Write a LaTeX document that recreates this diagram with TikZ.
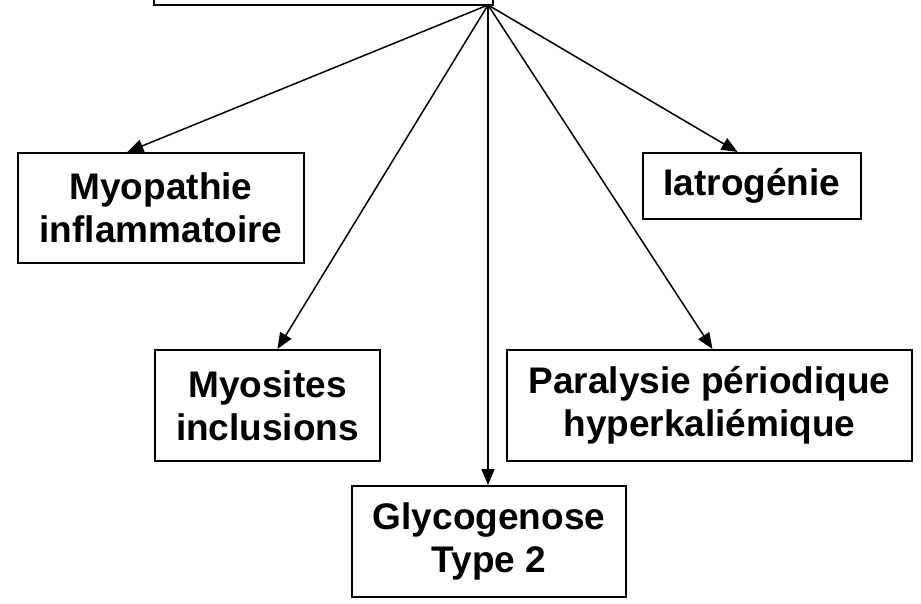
\documentclass[tikz,border=0pt]{standalone}
\usepackage{fontspec}
\setmainfont{Liberation Sans}[Ligatures=NoCommon]
\usetikzlibrary{arrows.meta,positioning}

\begin{document}
\begin{tikzpicture}
  [x=1pt,y=-1pt,
  >={Triangle[length=16pt,width=13pt]},
  cause/.style={rectangle,draw=black,line width=2pt,inner sep=0pt,
    align=center,font=\fontsize{37}{43}\selectfont\bfseries},
  link/.style={->,line width=1.5pt}]

\useasboundingbox (0,0) rectangle (921,604);
\clip (0,0) rectangle (921,604);

% root box (cut off at the top)
\node[cause,minimum width=339pt,minimum height=80pt] (root) at (323.5,-35) {};
\coordinate (src) at (488,5);

% causes
\node[cause,minimum width=286pt,minimum height=110pt] (myopathie) at (161,208) {Myopathie\\inflammatoire};
\node[cause,minimum width=218pt,minimum height=66pt] (iatrogenie) at (752,186) {Iatrogénie};
\node[cause,minimum width=225pt,minimum height=111pt] (myosites) at (267.5,405.5) {Myosites\\inclusions};
\node[cause,minimum width=405pt,minimum height=111pt] (paralysie) at (709.5,405.5) {Paralysie périodique\\hyperkaliémique};
\node[cause,minimum width=274pt,minimum height=111pt] (glycogenose) at (489,541.5) {Glycogenose\\Type 2};

\draw [link] (src) -- (myopathie.121.7);
\draw [link] (src) -- (myosites.80.3);
\draw [link] (src) -- (src |- glycogenose.north);
\draw [link] (src) -- (paralysie.87.4);
\draw [link] (src) -- (iatrogenie.113);

\end{tikzpicture}
\end{document}
